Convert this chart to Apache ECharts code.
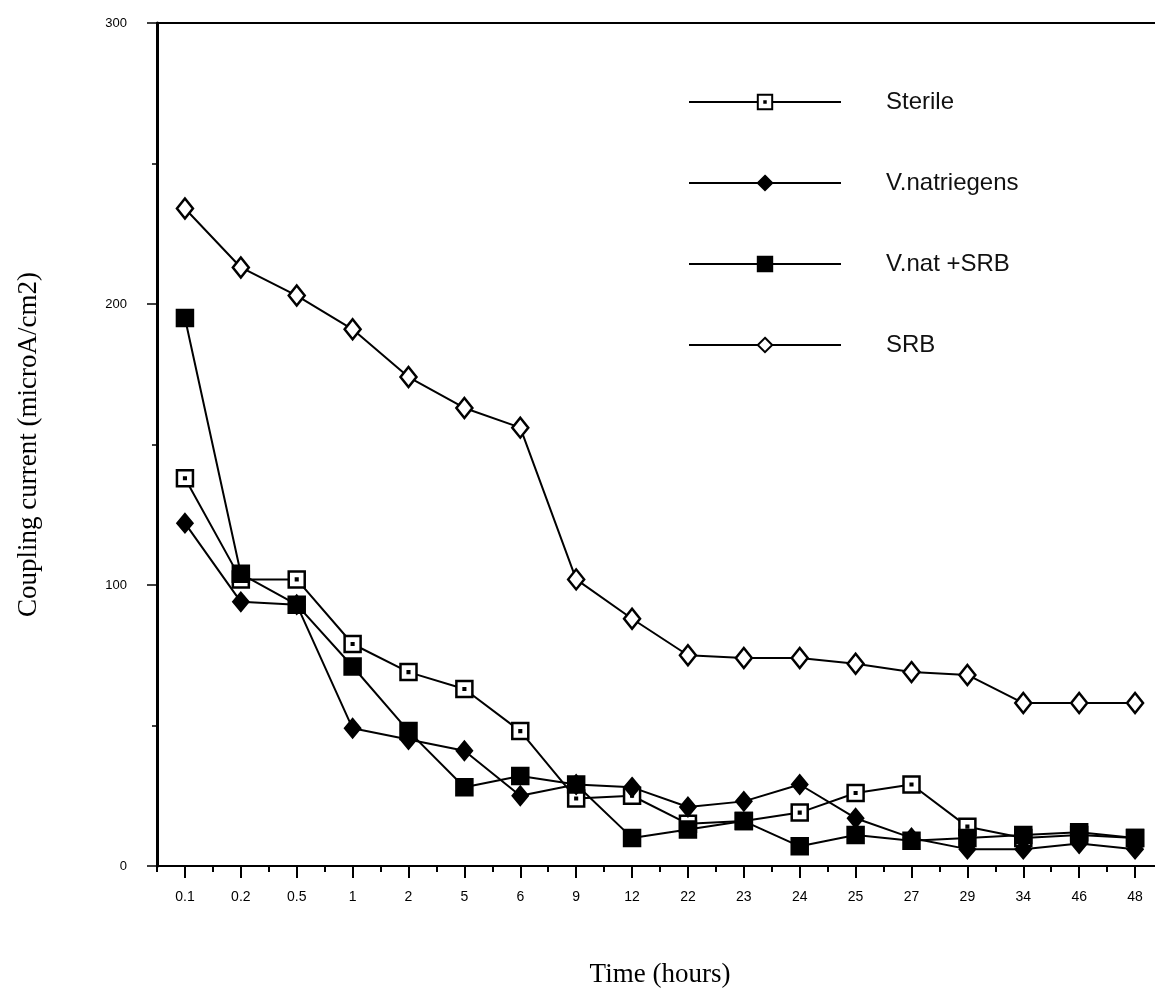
<!DOCTYPE html>
<html>
<head>
<meta charset="utf-8">
<script src="https://cdn.jsdelivr.net/npm/echarts@6/dist/echarts.min.js"></script>
<style>
  html, body { margin: 0; padding: 0; background: #fff; }
  #chart { width: 1155px; height: 1007px; }
</style>
</head>
<body>
<div id="chart"></div>
<script>
// time points (hours), shown as categories
var categories = ['0.1', '0.2', '0.5', '1', '2', '5', '6', '9', '12', '22', '23', '24', '25', '27', '29', '34', '46', '48'];
// coupling current, microA/cm2
var sterile     = [138, 102, 102, 79, 69, 63, 48, 24, 25, 15, 16, 19, 26, 29, 14, 10, 11, 10];
var vNatriegens = [122, 94, 93, 49, 45, 41, 25, 29, 28, 21, 23, 29, 17, 10, 6, 6, 8, 6];
var vNatSrb     = [195, 104, 93, 71, 48, 28, 32, 29, 10, 13, 16, 7, 11, 9, 10, 11, 12, 10];
var srb         = [234, 213, 203, 191, 174, 163, 156, 102, 88, 75, 74, 74, 72, 69, 68, 58, 58, 58];

var chart = echarts.init(document.getElementById('chart'));

// open square with a small dot in the middle
var openSquare = 'path://M0,0H10V10H0Z M4.5,4.5H5.5V5.5H4.5Z';

function lineSeries(name, data, symbol, size, fill) {
  return {
    name: name,
    type: 'line',
    data: data,
    symbol: symbol,
    symbolSize: size,
    showAllSymbol: true,
    lineStyle: { color: '#000', width: 2 },
    itemStyle: { color: fill, borderColor: '#000', borderWidth: 2.5 },
    emphasis: { disabled: true },
    z: 3
  };
}

var option = {
  animation: false,
  backgroundColor: '#fff',
  grid: {
    left: 157,
    width: 1006,
    top: 23,
    bottom: 141,
    outerBoundsMode: 'none',
    containLabel: false,
    show: true,
    borderColor: '#000',
    borderWidth: 2,
    backgroundColor: 'transparent'
  },
  legend: {
    orient: 'vertical',
    left: 683,
    top: 84,
    itemWidth: 152,
    itemHeight: 18,
    itemGap: 55,
    data: ['Sterile', 'V.natriegens', 'V.nat +SRB', 'SRB'],
    textStyle: {
      fontFamily: 'Liberation Sans',
      fontSize: 24,
      lineHeight: 26,
      color: '#111',
      padding: [0, 0, 0, 40]
    }
  },
  xAxis: [
    {
      type: 'category',
      data: categories,
      boundaryGap: true,
      axisLine: { lineStyle: { color: '#000', width: 2 } },
      axisTick: { show: true, alignWithLabel: true, interval: 0, length: 12, lineStyle: { color: '#000', width: 2 } },
      axisLabel: { color: '#000', fontFamily: 'Liberation Sans', fontSize: 14, margin: 24, interval: 0 },
      name: 'Time (hours)',
      nameLocation: 'middle',
      nameGap: 95,
      nameTextStyle: { fontFamily: 'Liberation Serif', fontSize: 27, color: '#000' }
    },
    {
      // short ticks between the time points
      type: 'category',
      data: categories,
      boundaryGap: true,
      position: 'bottom',
      axisLine: { show: false },
      axisTick: { show: true, interval: 0, length: 6, lineStyle: { color: '#000', width: 2 } },
      axisLabel: { show: false }
    }
  ],
  yAxis: {
    type: 'value',
    min: 0,
    max: 300,
    interval: 100,
    axisLine: { show: true, lineStyle: { color: '#000', width: 3 } },
    axisTick: { show: true, length: 10, lineStyle: { color: '#000', width: 1.5 } },
    minorTick: { show: true, splitNumber: 2, length: 5, lineStyle: { color: '#000', width: 1.5 } },
    splitLine: { show: false },
    axisLabel: { color: '#000', fontFamily: 'Liberation Sans', fontSize: 13, margin: 30 },
    name: 'Coupling current (microA/cm2)',
    nameLocation: 'middle',
    nameGap: 115,
    nameTextStyle: { fontFamily: 'Liberation Serif', fontSize: 27, color: '#000' }
  },
  series: [
    lineSeries('Sterile', sterile, openSquare, 16, '#fff'),
    lineSeries('V.natriegens', vNatriegens, 'diamond', [15, 18], '#000'),
    lineSeries('V.nat +SRB', vNatSrb, 'rect', 16, '#000'),
    lineSeries('SRB', srb, 'diamond', [16, 20], '#fff'),
    {
      // invisible helper so the tick-only axis gets its extent
      name: 'ticks',
      type: 'line',
      xAxisIndex: 1,
      data: srb,
      symbol: 'none',
      silent: true,
      lineStyle: { opacity: 0 },
      z: 0
    }
  ]
};

chart.setOption(option);
</script>
</body>
</html>
